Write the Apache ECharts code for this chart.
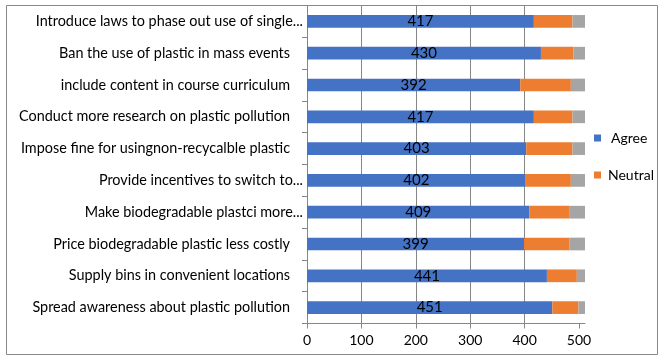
<!DOCTYPE html>
<html>
<head>
<meta charset="utf-8">
<script src="https://cdn.jsdelivr.net/npm/echarts@6/dist/echarts.min.js"></script>
<style>
html,body{margin:0;padding:0;background:#fff;}
#c{width:667px;height:361px;}
</style>
</head>
<body>
<div id="c"></div>
<script>
const categories = [
  "Introduce laws to phase out use of single...",
  "Ban the use of plastic in mass events",
  "include content in course curriculum",
  "Conduct more research on plastic pollution",
  "Impose fine for usingnon-recycalble plastic",
  "Provide incentives to switch to...",
  "Make biodegradable plastci more...",
  "Price biodegradable plastic less costly",
  "Supply bins in convenient locations",
  "Spread awareness about plastic pollution"
];
const agree    = [417, 430, 392, 417, 403, 402, 409, 399, 441, 451];
const neutral  = [71, 60, 93, 71, 85, 83, 74, 83, 55, 48];
const disagree = [23, 21, 26, 23, 23, 26, 28, 29, 15, 12];
const xTicks = [0, 100, 200, 300, 400, 500];

const FONT = 'Lato';
const chart = echarts.init(document.getElementById('c'), null, {renderer: 'canvas'});
chart.setOption({
  animation: false,
  backgroundColor: '#fff',
  textStyle: {fontFamily: FONT},
  graphic: [{
    type: 'rect', silent: true, z: -1,
    shape: {x: 6.5, y: 5.5, width: 651, height: 349},
    style: {fill: 'none', stroke: '#898989', lineWidth: 1}
  }],
  legend: {
    data: ['Agree', 'Neutral'],
    orient: 'vertical',
    left: 589, top: 126,
    itemWidth: 7, itemHeight: 7, itemGap: 23,
    icon: 'rect',
    formatter: function (n) { return n === 'Agree' ? '{a|' + n + '}' : '{b|' + n + '}'; },
    textStyle: {
      fontFamily: FONT, fontSize: 14, color: '#000',
      rich: {
        a: {fontFamily: FONT, fontSize: 14, color: '#000', padding: [0, 0, 0, 5]},
        b: {fontFamily: FONT, fontSize: 14, color: '#000', padding: [0, 0, 0, 2]}
      }
    }
  },
  grid: {left: 307, top: 5.5, width: 278, height: 318},
  xAxis: {
    type: 'value', min: 0, max: 511, interval: 100,
    axisLine: {show: true, lineStyle: {color: '#868686'}},
    axisTick: {show: true, length: 5, lineStyle: {color: '#868686'}, customValues: xTicks},
    axisLabel: {fontFamily: FONT, fontSize: 14, color: '#000', margin: 10, customValues: xTicks},
    splitLine: {show: true, showMaxLine: false, lineStyle: {color: '#868686', width: 1}}
  },
  yAxis: {
    type: 'category', data: categories, inverse: true,
    axisLine: {show: true, lineStyle: {color: '#868686'}},
    axisTick: {show: true, length: 5, lineStyle: {color: '#868686'}},
    axisLabel: {
      fontFamily: FONT, fontSize: 14.4, color: '#000', margin: 4,
      formatter: function (v) { return v.endsWith('...') ? '{b|' + v + '}' : '{a|' + v + '}'; },
      rich: {
        a: {fontFamily: FONT, fontSize: 14.4, color: '#000', padding: [0, 13, 0, 0]},
        b: {fontFamily: FONT, fontSize: 14.4, color: '#000', padding: [0, 0, 0, 0]}
      }
    }
  },
  series: [
    {name: 'Agree', type: 'bar', stack: 't', data: agree, barCategoryGap: '60%',
     itemStyle: {color: '#4472C4'},
     label: {show: true, position: 'inside', color: '#000', fontFamily: FONT, fontSize: 15}},
    {name: 'Neutral', type: 'bar', stack: 't', data: neutral, itemStyle: {color: '#ED7D31'}},
    {name: 'Disagree', type: 'bar', stack: 't', data: disagree, itemStyle: {color: '#A5A5A5'}}
  ]
});
</script>
</body>
</html>
